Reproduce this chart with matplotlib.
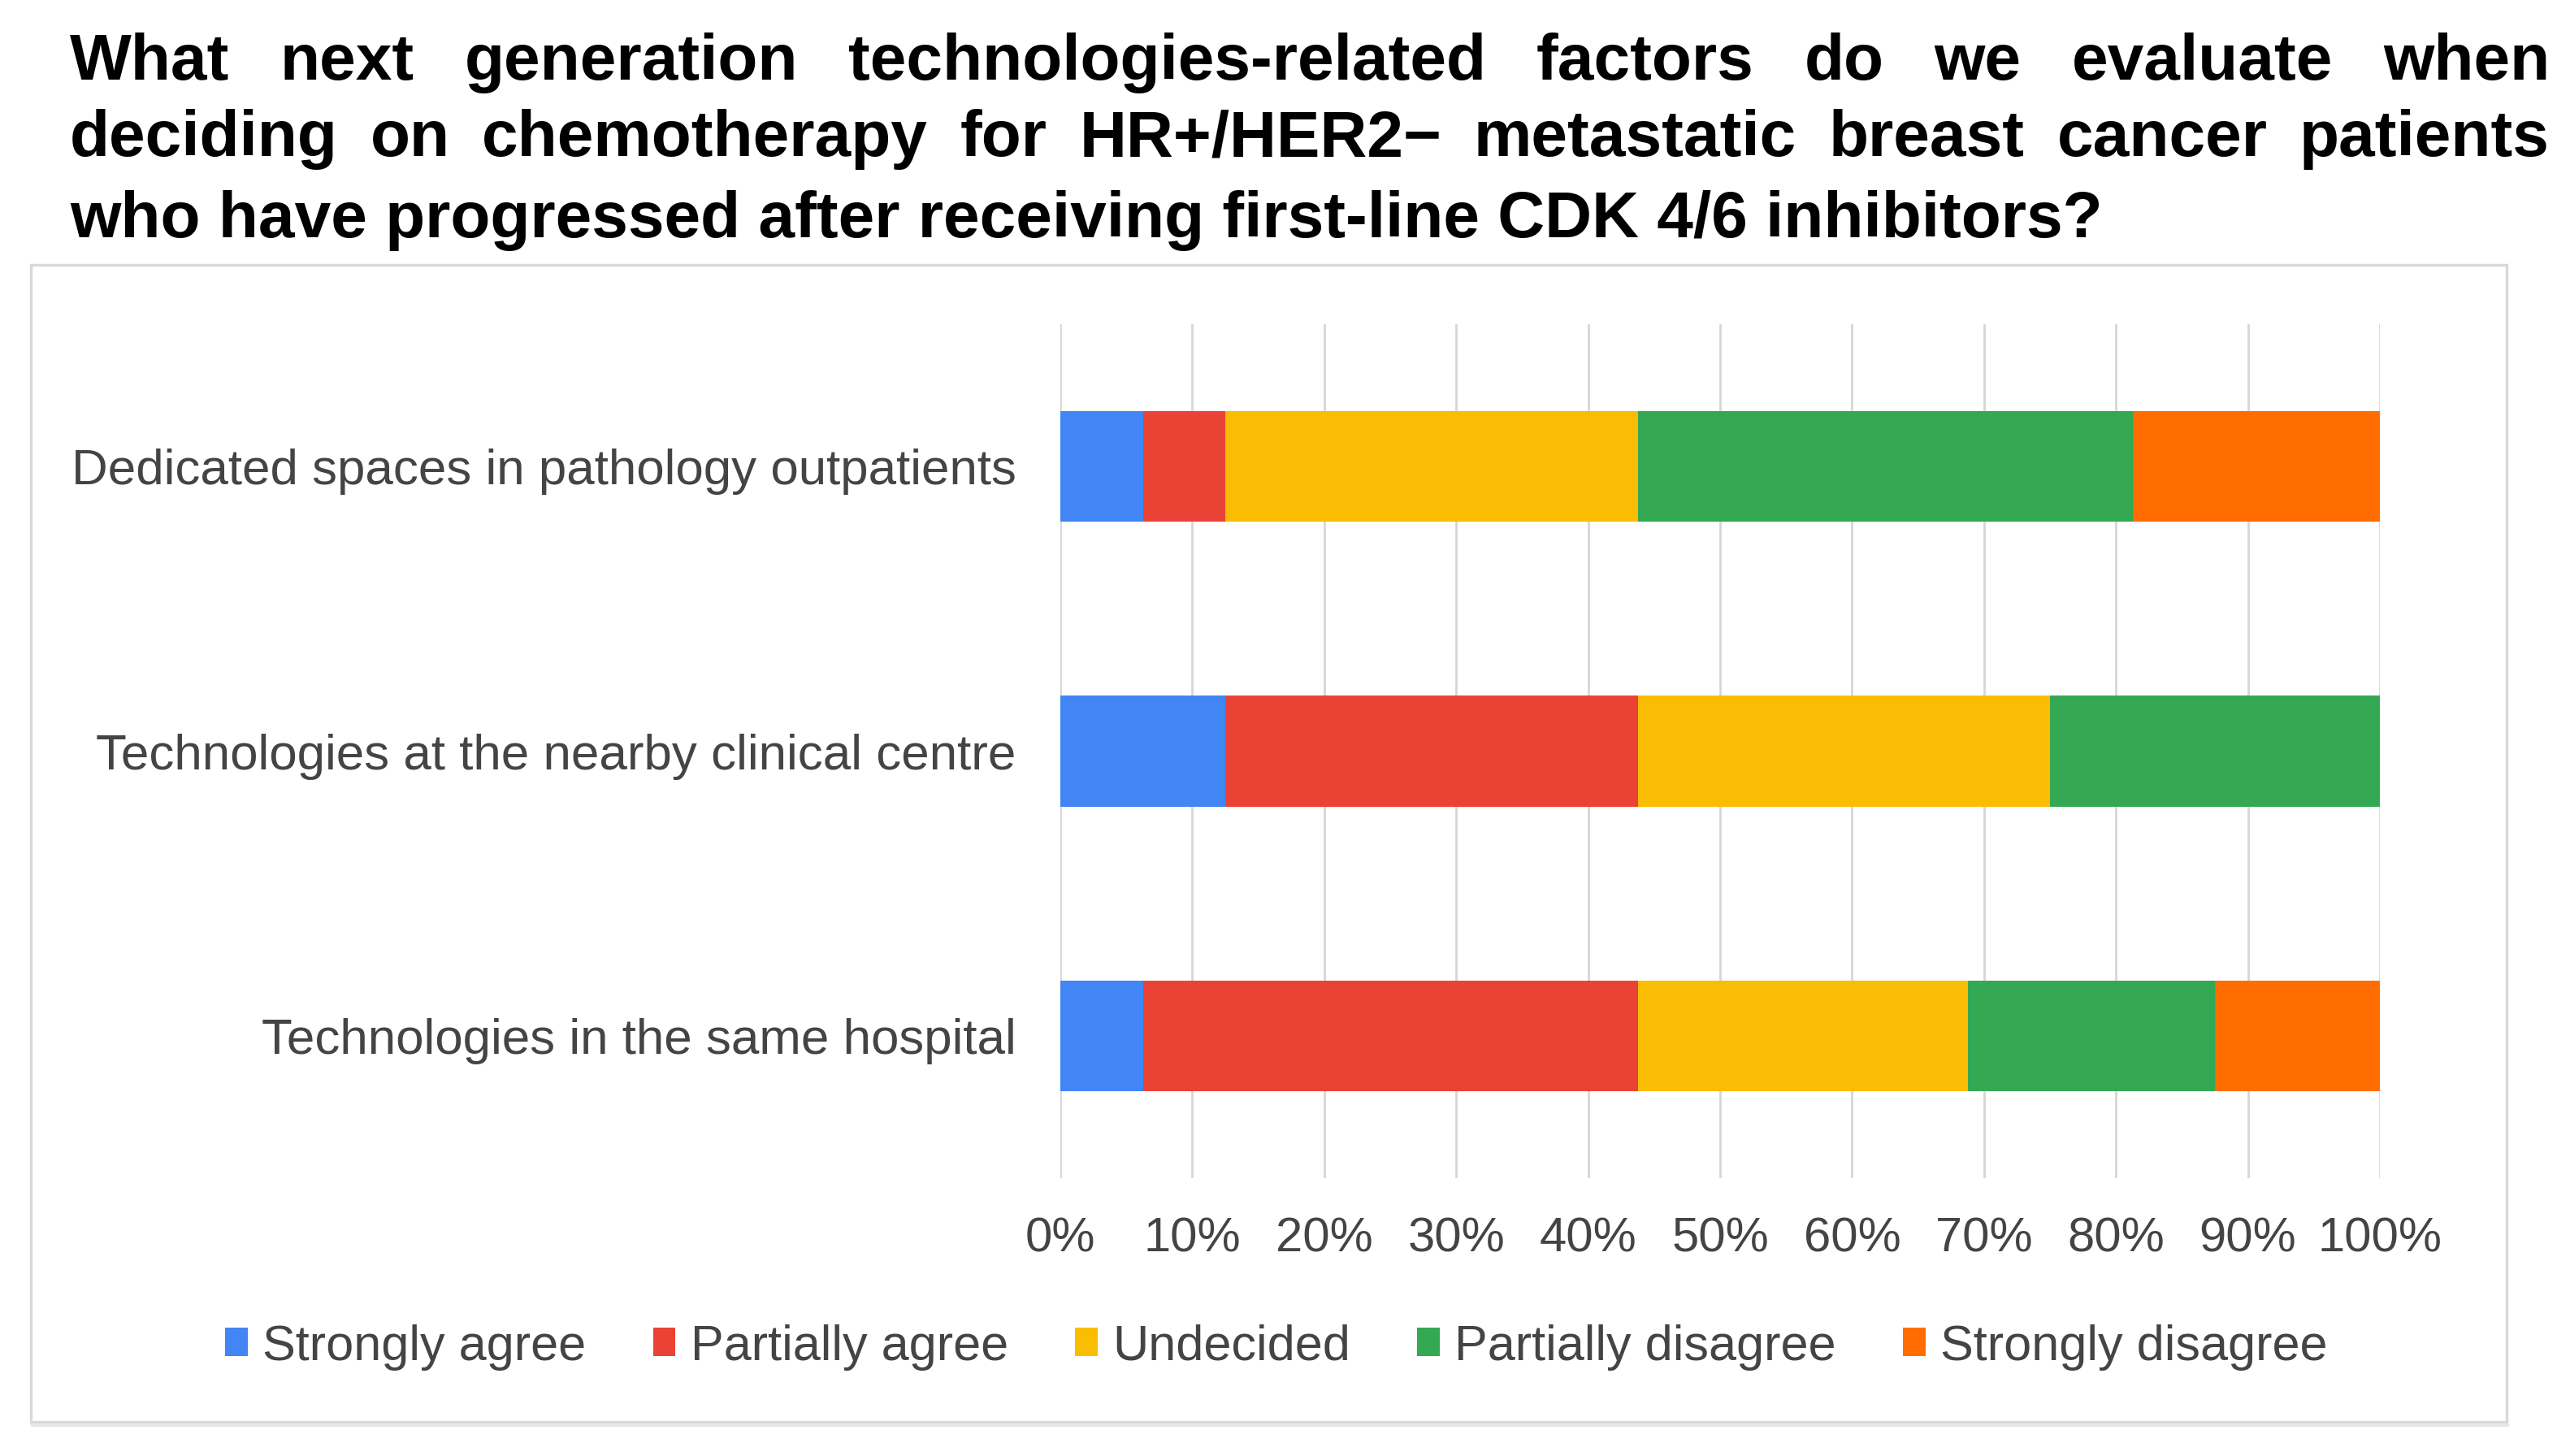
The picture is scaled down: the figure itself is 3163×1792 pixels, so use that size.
import matplotlib
matplotlib.use("Agg")
import matplotlib.pyplot as plt
from matplotlib.patches import Rectangle, Patch
from matplotlib.lines import Line2D

# survey data (percent of respondents)
categories = ["Dedicated spaces in pathology outpatients",
              "Technologies at the nearby clinical centre",
              "Technologies in the same hospital"]
responses = ["Strongly agree", "Partially agree", "Undecided",
             "Partially disagree", "Strongly disagree"]
strongly_agree = [6.25, 12.5, 6.25]
partially_agree = [6.25, 31.25, 37.5]
undecided = [31.25, 31.25, 25.0]
partially_disagree = [37.5, 25.0, 18.75]
strongly_disagree = [18.75, 0.0, 12.5]
colors = ["#4285F4", "#EA4335", "#FBBC04", "#34A853", "#FF6D01"]
xticks = [0, 10, 20, 30, 40, 50, 60, 70, 80, 90, 100]
xtick_labels = [str(v) + "%" for v in xticks]

title_lines = ["What next generation technologies-related factors do we evaluate when",
               "deciding on chemotherapy for HR+/HER2\u2212 metastatic breast cancer patients",
               "who have progressed after receiving first-line CDK 4/6 inhibitors?"]

plt.rcParams['font.family'] = ['Liberation Sans', 'DejaVu Sans']

W, H = 3163, 1792
fig = plt.figure(figsize=(W / 100, H / 100), dpi=100)

# chart frame
fig.patches.append(Rectangle((38 / W, 1 - 1750 / H), (3085 - 38) / W, (1750 - 326) / H,
                             transform=fig.transFigure, fill=False,
                             edgecolor="#d9d9d9", lw=2.5, zorder=0))
fig.add_artist(Line2D([40 / W, 3086 / W], [1 - 1754 / H, 1 - 1754 / H],
                      transform=fig.transFigure, color="#e6e6e6", lw=3))

# justified title
renderer = fig.canvas.get_renderer()
left_px, right_px = 86, 3138
baselines = [98, 192, 292]
for i, line in enumerate(title_lines):
    y = 1 - baselines[i] / H
    if i == len(title_lines) - 1:
        fig.text(left_px / W, y, line, fontsize=57.8, fontweight="bold",
                 va="baseline", ha="left", color="black")
        continue
    words = line.split(" ")
    texts = [fig.text(0, y, w, fontsize=57.8, fontweight="bold",
                      va="baseline", ha="left", color="black") for w in words]
    widths = [t.get_window_extent(renderer).width for t in texts]
    gap = (right_px - left_px - sum(widths)) / (len(words) - 1)
    x = left_px
    for t, wd in zip(texts, widths):
        t.set_x(x / W)
        x += wd + gap

ax = fig.add_axes([1305 / W, 1 - 1450 / H, (2929 - 1305) / W, (1450 - 399) / H])
series = [strongly_agree, partially_agree, undecided, partially_disagree, strongly_disagree]
ypos = list(range(len(categories)))
left = [0.0] * len(categories)
for vals, col, name in zip(series, colors, responses):
    ax.barh(ypos, vals, left=left, height=0.39, color=col, label=name, zorder=3)
    left = [a + b for a, b in zip(left, vals)]

ax.set_xlim(0, 100)
ax.set_ylim(-0.5, 2.5)
ax.invert_yaxis()
ax.set_xticks(xticks)
ax.set_xticklabels(xtick_labels)
ax.set_yticks(ypos)
ax.set_yticklabels(categories)
ax.tick_params(axis="x", length=0, pad=34, labelsize=43, labelcolor="#444444")
ax.tick_params(axis="y", length=0, pad=39, labelsize=44.6, labelcolor="#444444")
ax.xaxis.grid(True, color="#d6d6d6", lw=2)
ax.set_axisbelow(True)
for s in ax.spines.values():
    s.set_visible(False)

handles = [Patch(facecolor=c, edgecolor="none") for c in colors]
fig.legend(handles, responses, loc="center", bbox_to_anchor=(1571 / W, 1 - 1658 / H),
           ncol=5, frameon=False, fontsize=44, handlelength=0.45, handleheight=0.5,
           handletextpad=0.3, columnspacing=1.35, labelcolor="#444444")

fig.savefig("out.png", dpi=100, facecolor="white")
